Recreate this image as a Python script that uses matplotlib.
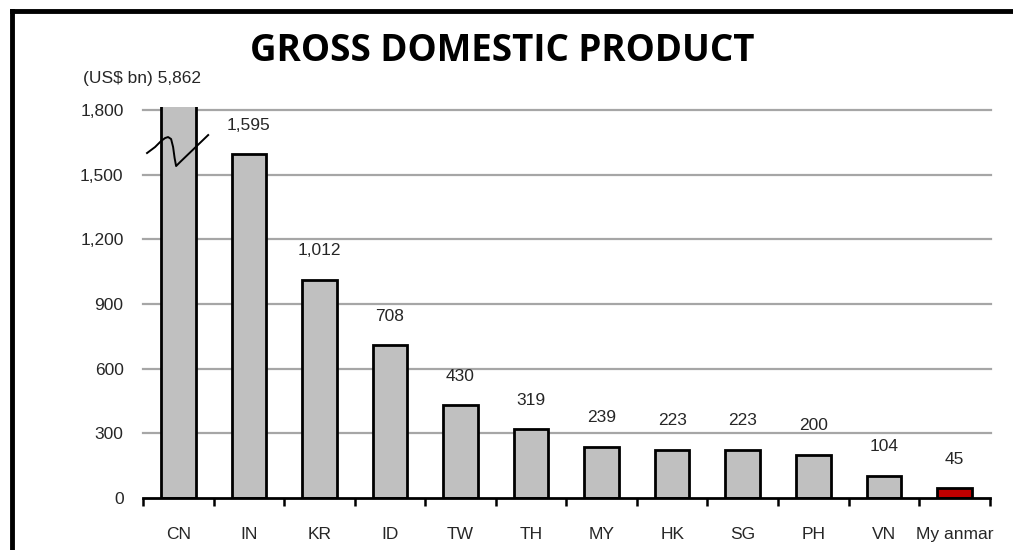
import numpy as np
import matplotlib.pyplot as plt
from matplotlib.lines import Line2D

# GDP by economy, US$ bn
countries = ['CN', 'IN', 'KR', 'ID', 'TW', 'TH', 'MY', 'HK', 'SG', 'PH', 'VN', 'My anmar']
gdp = [5862, 1595, 1012, 708, 430, 319, 239, 223, 223, 200, 104, 45]
yticks = [0, 300, 600, 900, 1200, 1500, 1800]

narrow = ['Liberation Sans Narrow', 'Liberation Sans', 'DejaVu Sans']
txt_color = '#262626'
fsize = 12.5

fig = plt.figure(figsize=(10.13, 5.5), dpi=100)
ax = fig.add_axes([0.1412, 0.0945, 0.8358, 0.7113])

ind = np.arange(len(countries))
colors = ['#c0c0c0'] * (len(countries) - 1) + ['#c00000']
ax.bar(ind, gdp, 0.49, color=colors, edgecolor='black', linewidth=2.0, zorder=3)

# value labels (CN goes next to the unit label since its bar is cut off)
for i, v in enumerate(gdp[1:], start=1):
    ax.annotate(f'{v:,}', (i, v), xytext=(0, 21), textcoords='offset points',
                ha='center', va='center', fontsize=fsize, family=narrow, color=txt_color)
ax.text(-1.35, 1945, f'(US$ bn) {gdp[0]:,}', ha='left', va='center',
        fontsize=fsize, family=narrow, color=txt_color)

# break mark over the CN bar
bx = np.array([147, 155, 161, 165, 168, 171, 173, 174.5, 176, 180, 208])
by = np.array([153, 147, 141, 138, 137, 139, 147, 158, 166, 162, 135])
ax.plot((bx - 143) / 70.4 - 0.5, (498 - by) * 1800 / 388, color='black',
        linewidth=1.4, zorder=4, clip_on=False)

ax.set_xlim(-0.5, len(countries) - 0.5)
ax.set_ylim(0, 1815)
ax.set_yticks(yticks)
ax.set_yticklabels([f'{t:,}' for t in yticks])
for y in yticks[1:]:
    ax.axhline(y, color='#a6a6a6', linewidth=1.6, zorder=1, xmax=1.002, clip_on=False)

ax.set_xticks(ind)
ax.set_xticklabels(countries)
ax.set_xticks(np.arange(len(countries) + 1) - 0.5, minor=True)
ax.tick_params(axis='x', which='major', length=0, pad=21)
ax.tick_params(axis='x', which='minor', length=6, width=1.8, direction='out')
ax.tick_params(axis='y', length=0, pad=14)
for lab in ax.get_xticklabels() + ax.get_yticklabels():
    lab.set_family(narrow)
    lab.set_fontsize(fsize)
    lab.set_color(txt_color)

for s in ['top', 'right', 'left']:
    ax.spines[s].set_visible(False)
ax.spines['bottom'].set_linewidth(2.0)
ax.spines['bottom'].set_zorder(5)

fig.text(0.496, 0.907, 'GROSS DOMESTIC PRODUCT', ha='center', va='center',
         fontsize=26.5, fontweight='bold', family=['Open Sans', 'DejaVu Sans'])

# frame around the slide
fig.add_artist(Line2D([0.0118, 1.0], [0.98, 0.98], color='black', linewidth=3.5,
                      transform=fig.transFigure))
fig.add_artist(Line2D([0.0118, 0.0118], [0.0, 0.98], color='black', linewidth=3.5,
                      transform=fig.transFigure))

fig.savefig('out.png', dpi=100)
